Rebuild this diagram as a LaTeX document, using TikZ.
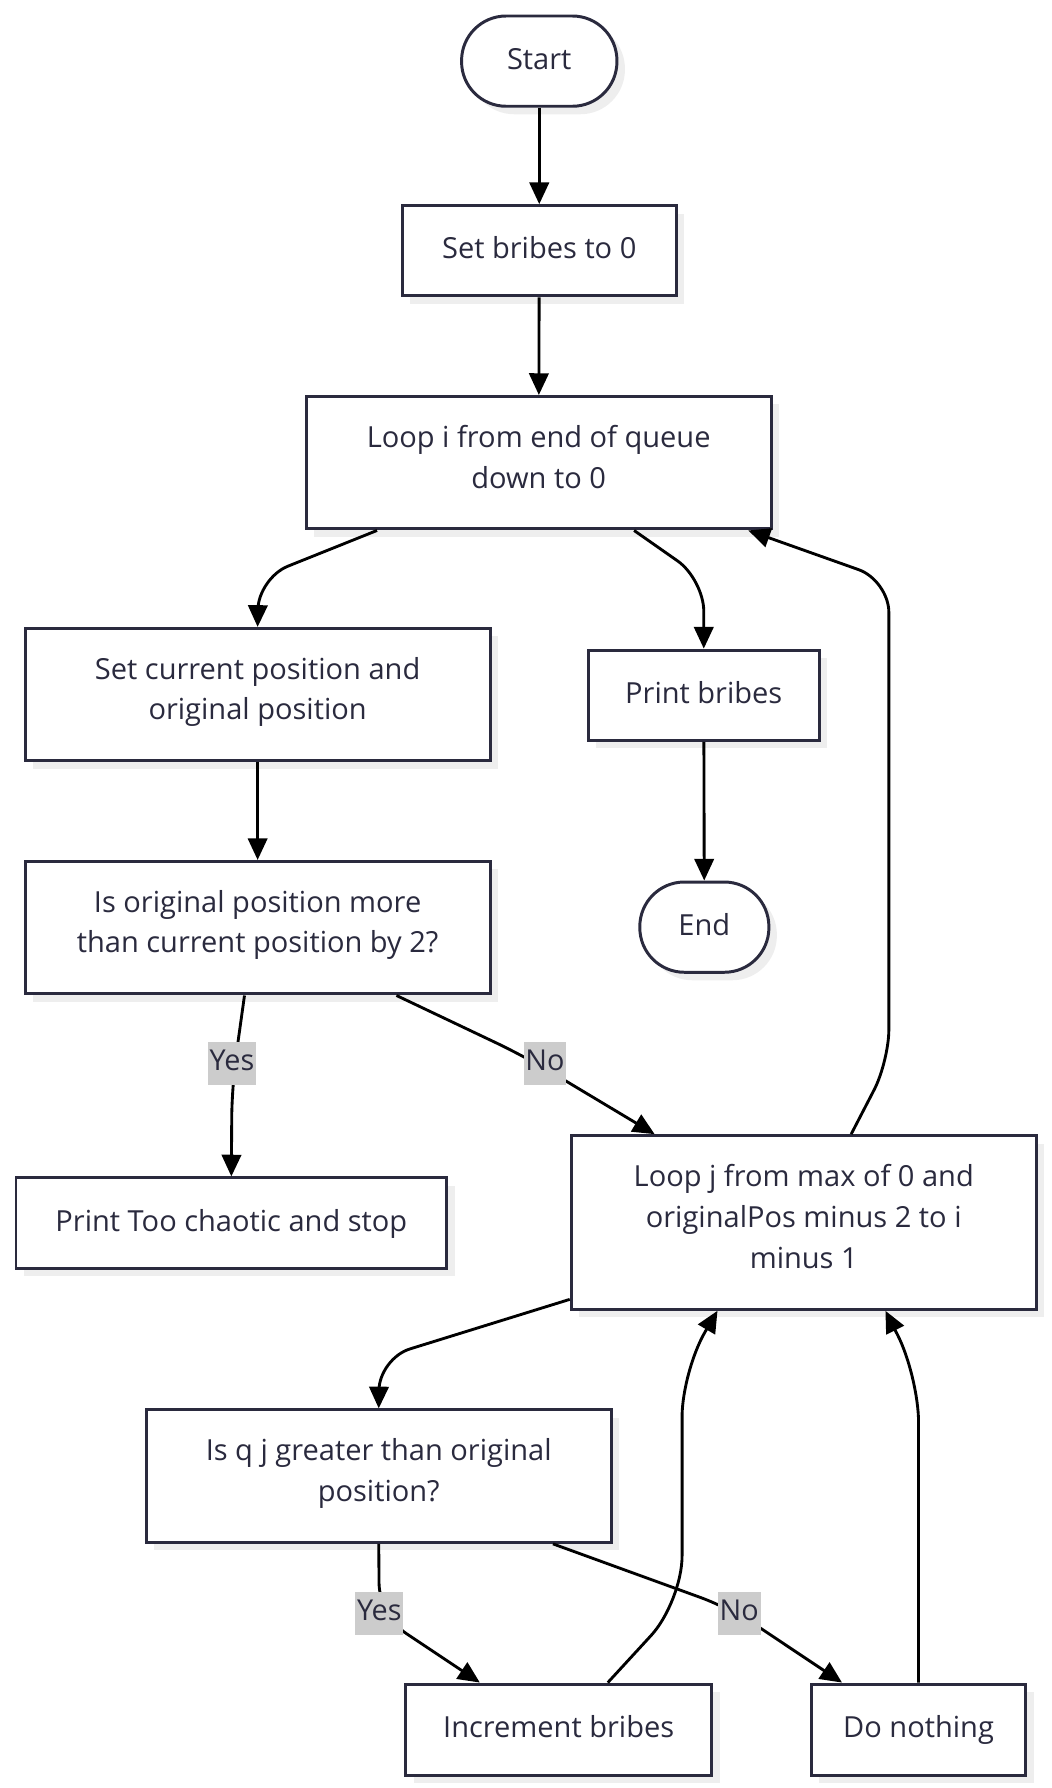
\documentclass[tikz,border=0pt]{standalone}
\usepackage{fontspec}
\setmainfont{Open Sans}
\usetikzlibrary{arrows.meta,shadows,calc}
\definecolor{ink}{RGB}{42,42,62}
\definecolor{shadowgray}{RGB}{238,238,238}
\definecolor{lblbg}{RGB}{204,204,204}
\tikzset{
  box/.style={draw=ink, line width=1.3pt, fill=white, text=ink, align=center,
    font=\fontsize{12.7}{17.8}\selectfont, inner sep=0pt,
    execute at begin node=\strut, execute at end node=\strut,
    drop shadow={shadow xshift=3.5pt, shadow yshift=-3.5pt, fill=shadowgray, opacity=1}},
  term/.style={box, rounded corners=19.5pt},
  arr/.style={draw=black, line width=1.25pt, -{Triangle[length=9.5pt,width=8.5pt]}, rounded corners=14pt},
  lbl/.style={fill=lblbg, text=ink, font=\fontsize{12.6}{15}\selectfont, inner xsep=0.8pt, inner ysep=2pt,
    execute at begin node=\strut}
}
\begin{document}
\begin{tikzpicture}[x=0.5pt,y=-0.5pt]
\useasboundingbox (0,0) rectangle (920,1565);
% nodes
\node[term, minimum width=68pt, minimum height=39.5pt] (start) at (472,53.5) {Start};
\node[box, minimum width=120pt, minimum height=39.5pt] (setb) at (472,219.5) {Set bribes to 0};
\node[box, minimum width=203.5pt, minimum height=58pt] (loopi) at (471.5,405) {Loop i from end of queue\\down to 0};
\node[box, minimum width=203.5pt, minimum height=58pt] (setcur) at (225.5,608) {Set current position and\\original position};
\node[box, minimum width=101pt, minimum height=39.5pt] (printb) at (616,608.5) {Print bribes};
\node[box, minimum width=203.5pt, minimum height=58pt] (isorig) at (225.5,812) {Is original position more\\than current position by 2?};
\node[term, minimum width=56.5pt, minimum height=39.5pt] (end) at (616.5,811.5) {End};
\node[box, minimum width=188.5pt, minimum height=39.5pt] (chaotic) at (202.5,1070.5) {Print Too chaotic and stop};
\node[box, minimum width=203.5pt, minimum height=76pt] (loopj) at (703.5,1070) {Loop j from max of 0 and\\originalPos minus 2 to i\\minus 1};
\node[box, minimum width=203.5pt, minimum height=58pt] (isq) at (331.5,1292) {Is q j greater than original\\position?};
\node[box, minimum width=134pt, minimum height=40pt] (inc) at (489,1514) {Increment bribes};
\node[box, minimum width=94pt, minimum height=40pt] (nothing) at (804,1514) {Do nothing};
% edges
\draw[arr] (start) -- (setb);
\draw[arr] (setb) -- (loopi);
\draw[arr] ($(loopi.south)+(-141.5,0)$) -- (226,506) -- (setcur.north);
\draw[arr] ($(loopi.south)+(83.5,0)$) -- (616,507) -- (printb.north);
\draw[arr] ($(loopj.north)+(41.5,0)$) -- (778,929) -- (778,508) -- ($(loopi.south)+(183.5,0)$);
\draw[arr] (setcur) -- (isorig);
\draw[arr] (printb) -- (end);
\draw[arr] ($(isorig.south)+(-11.5,0)$) -- (203,950) -- (chaotic.north);
\node[lbl] (yes1) at (203,931) {Yes};
\draw[arr] ($(isorig.south)+(121.5,0)$) -- (460,925) -- ($(loopj.north)+(-130.5,0)$);
\node[lbl] (no1) at (477,931) {No};
\draw[arr] ($(loopj.south west)+(0,-10)$) -- (332,1189) -- (isq.north);
\draw[arr] (isq.south) -- (332,1414) -- ($(inc.north)+(-69,0)$);
\node[lbl] (yes2) at (332,1412) {Yes};
\draw[arr] ($(isq.south)+(152.5,0)$) -- (640,1408) -- ($(nothing.north)+(-67,0)$);
\node[lbl] (no2) at (647,1412) {No};
\draw[arr, rounded corners=20pt] ($(inc.north)+(43,0)$) -- (597,1402) -- (597,1200) -- ($(loopj.south)+(-75.5,0)$);
\draw[arr, rounded corners=20pt] (nothing.north) -- (804,1205) -- ($(loopj.south)+(71.5,0)$);
\end{tikzpicture}
\end{document}
